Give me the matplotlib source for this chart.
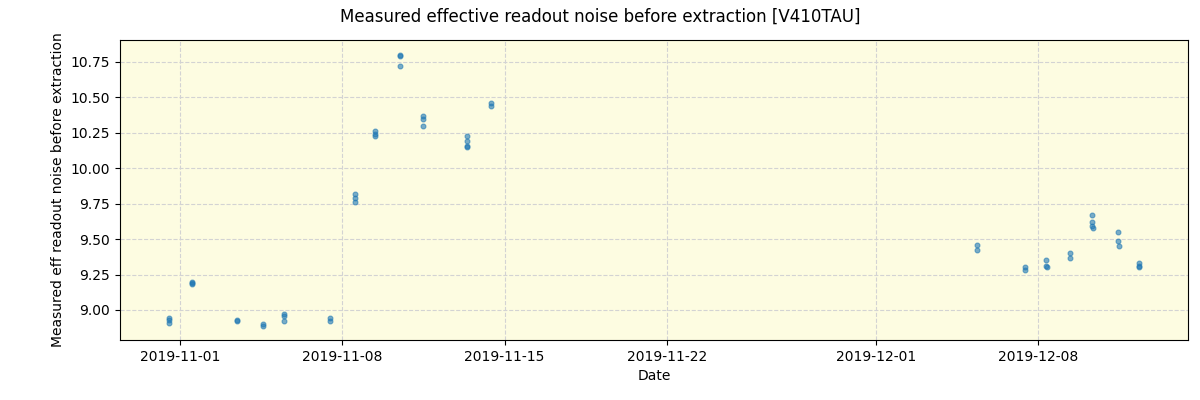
import matplotlib
matplotlib.use("Agg")
import matplotlib.pyplot as plt
import matplotlib.dates as mdates
import numpy as np
import pandas as pd

# observation times (fractional days, grouped by night) and measured values
times = [
    "2019-10-31 12:40", "2019-10-31 12:50", "2019-10-31 13:00",
    "2019-11-01 12:20", "2019-11-01 12:30", "2019-11-01 12:40",
    "2019-11-03 11:00", "2019-11-03 11:10",
    "2019-11-04 13:50", "2019-11-04 14:00",
    "2019-11-05 11:30", "2019-11-05 11:40", "2019-11-05 11:50",
    "2019-11-07 11:20", "2019-11-07 11:30",
    "2019-11-08 13:00", "2019-11-08 13:10", "2019-11-08 13:20",
    "2019-11-09 09:40", "2019-11-09 09:50", "2019-11-09 10:00",
    "2019-11-10 11:30", "2019-11-10 11:40", "2019-11-10 11:50",
    "2019-11-11 11:20", "2019-11-11 11:30", "2019-11-11 11:40",
    "2019-11-13 08:50", "2019-11-13 09:00", "2019-11-13 09:10", "2019-11-13 09:20",
    "2019-11-14 09:40", "2019-11-14 09:50",
    "2019-12-05 08:30", "2019-12-05 08:40",
    "2019-12-07 10:30", "2019-12-07 10:40",
    "2019-12-08 08:20", "2019-12-08 08:30", "2019-12-08 08:40",
    "2019-12-09 09:00", "2019-12-09 09:10",
    "2019-12-10 07:50", "2019-12-10 08:00", "2019-12-10 08:10", "2019-12-10 08:20",
    "2019-12-11 10:50", "2019-12-11 11:00", "2019-12-11 11:10",
    "2019-12-12 08:20", "2019-12-12 08:30", "2019-12-12 08:40",
]
noise = [
    8.94, 8.93, 8.91,
    9.20, 9.19, 9.18,
    8.93, 8.92,
    8.90, 8.89,
    8.97, 8.96, 8.92,
    8.94, 8.92,
    9.82, 9.79, 9.76,
    10.26, 10.24, 10.23,
    10.80, 10.79, 10.72,
    10.37, 10.35, 10.30,
    10.23, 10.19, 10.16, 10.15,
    10.46, 10.44,
    9.46, 9.42,
    9.30, 9.28,
    9.35, 9.31, 9.30,
    9.40, 9.37,
    9.67, 9.62, 9.59, 9.58,
    9.55, 9.49, 9.45,
    9.33, 9.31, 9.30,
]

dates = pd.to_datetime(times)

fig, ax = plt.subplots(figsize=(12, 4), dpi=100)
fig.subplots_adjust(left=0.1, right=0.99, top=0.9, bottom=0.15)
fig.suptitle("Measured effective readout noise before extraction [V410TAU]")

ax.set_facecolor("#fdfce1")
ax.plot(dates, noise, "o", color="tab:blue", alpha=0.6, markersize=3.5, markeredgewidth=0.8)
ax.grid(True, linestyle="--", color="lightgray")
ax.set_axisbelow(True)

ax.set_xlim(pd.Timestamp("2019-10-29 10:00"), pd.Timestamp("2019-12-14 11:00"))
ax.set_ylim(8.788, 10.905)
ax.xaxis.set_major_locator(mdates.DayLocator(bymonthday=[1, 8, 15, 22]))
ax.xaxis.set_major_formatter(mdates.DateFormatter("%Y-%m-%d"))

ax.set_xlabel("Date")
ax.set_ylabel("Measured eff readout noise before extraction")

fig.savefig("out.png")
